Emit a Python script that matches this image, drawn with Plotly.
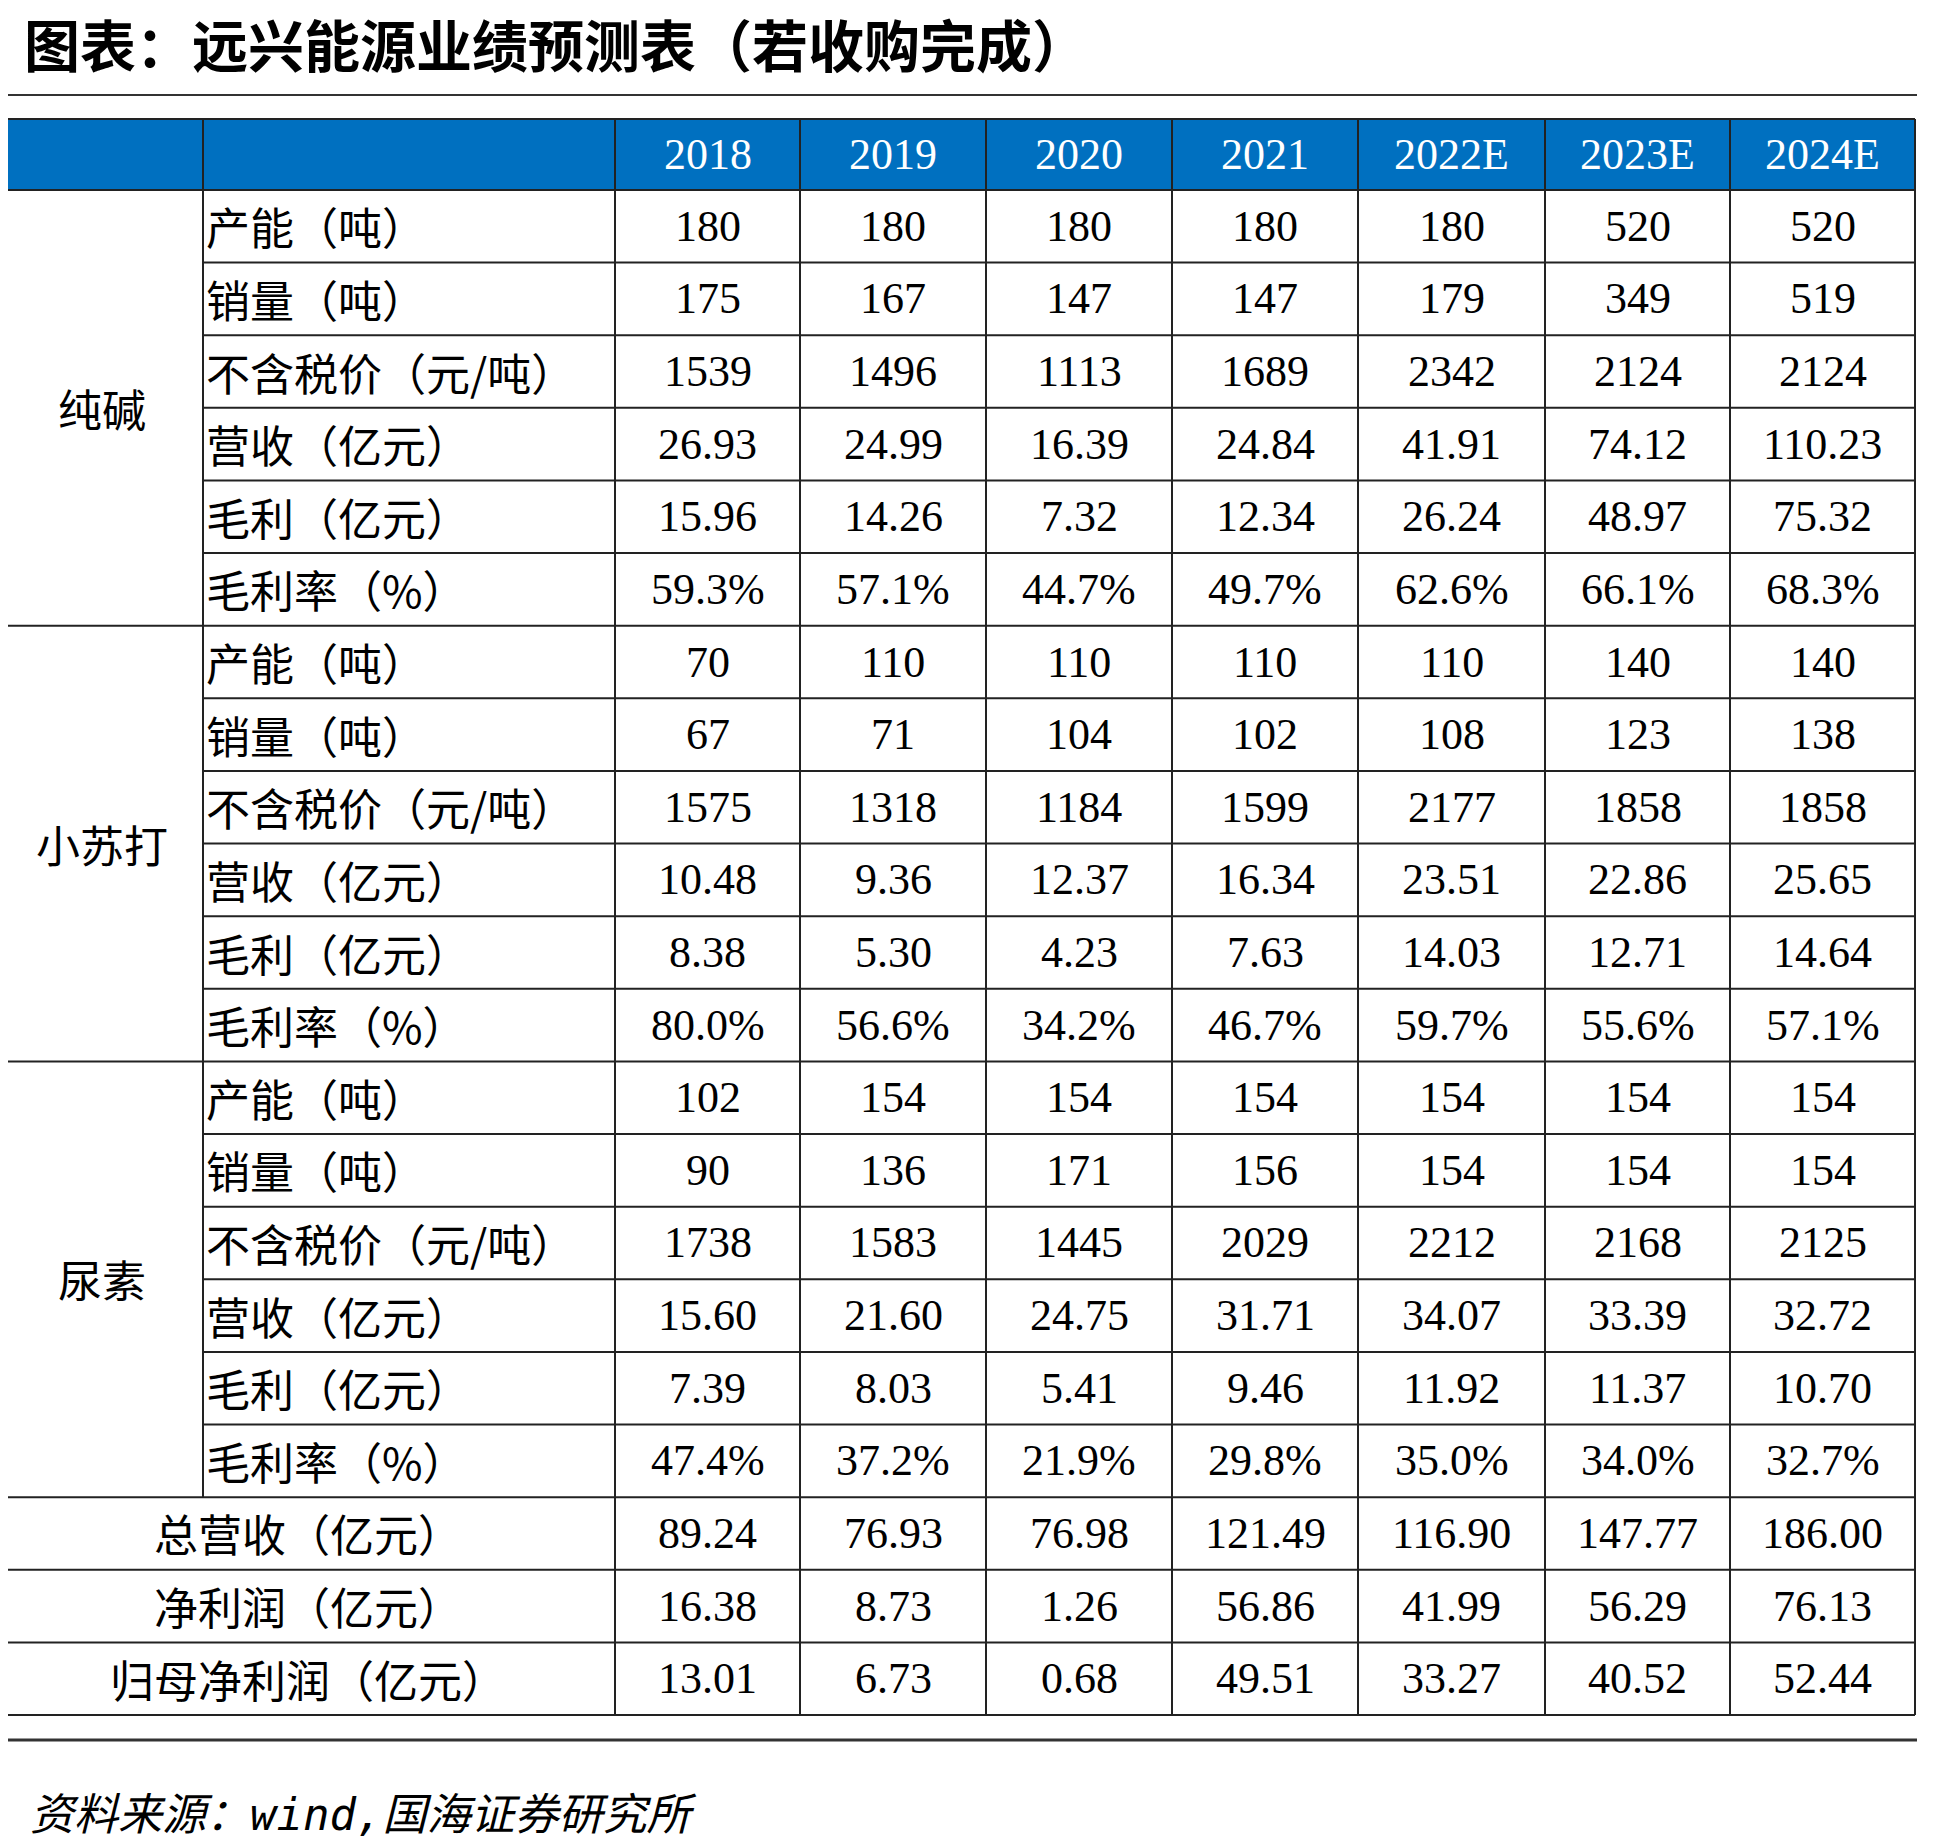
import plotly.graph_objects as go

years = ["2018", "2019", "2020", "2021", "2022E", "2023E", "2024E"]
groups = ["纯碱", "小苏打", "尿素"]
items = ["产能（吨）", "销量（吨）", "不含税价（元/吨）", "营收（亿元）", "毛利（亿元）", "毛利率（%）"]

soda_ash = [
    ["180", "180", "180", "180", "180", "520", "520"],
    ["175", "167", "147", "147", "179", "349", "519"],
    ["1539", "1496", "1113", "1689", "2342", "2124", "2124"],
    ["26.93", "24.99", "16.39", "24.84", "41.91", "74.12", "110.23"],
    ["15.96", "14.26", "7.32", "12.34", "26.24", "48.97", "75.32"],
    ["59.3%", "57.1%", "44.7%", "49.7%", "62.6%", "66.1%", "68.3%"],
]
baking_soda = [
    ["70", "110", "110", "110", "110", "140", "140"],
    ["67", "71", "104", "102", "108", "123", "138"],
    ["1575", "1318", "1184", "1599", "2177", "1858", "1858"],
    ["10.48", "9.36", "12.37", "16.34", "23.51", "22.86", "25.65"],
    ["8.38", "5.30", "4.23", "7.63", "14.03", "12.71", "14.64"],
    ["80.0%", "56.6%", "34.2%", "46.7%", "59.7%", "55.6%", "57.1%"],
]
urea = [
    ["102", "154", "154", "154", "154", "154", "154"],
    ["90", "136", "171", "156", "154", "154", "154"],
    ["1738", "1583", "1445", "2029", "2212", "2168", "2125"],
    ["15.60", "21.60", "24.75", "31.71", "34.07", "33.39", "32.72"],
    ["7.39", "8.03", "5.41", "9.46", "11.92", "11.37", "10.70"],
    ["47.4%", "37.2%", "21.9%", "29.8%", "35.0%", "34.0%", "32.7%"],
]
total_labels = ["总营收（亿元）", "净利润（亿元）", "归母净利润（亿元）"]
totals = [
    ["89.24", "76.93", "76.98", "121.49", "116.90", "147.77", "186.00"],
    ["16.38", "8.73", "1.26", "56.86", "41.99", "56.29", "76.13"],
    ["13.01", "6.73", "0.68", "49.51", "33.27", "40.52", "52.44"],
]

W, H = 1942, 1842
OFF = 8  # page body margin in the browser
col_x = [0, 203, 615, 800, 986, 1172, 1358, 1545, 1730, 1915]
top, head_bot, bot = 119, 190, 1715
n_rows = 21
rh = (bot - head_bot) / n_rows
def ry(i):
    return head_bot + i * rh

serif = "Liberation Serif, Noto Sans CJK SC"
cjk = "Noto Sans CJK SC"
FS = 44
line = dict(color="#222", width=2)

shapes, ann = [], []
# header
shapes.append(dict(type="rect", x0=0, x1=col_x[-1], y0=top, y1=head_bot,
                   fillcolor="#0070C0", line=dict(width=0), layer="below"))
for j, y in enumerate(years):
    ann.append(dict(x=(col_x[j + 2] + col_x[j + 3]) / 2, y=(top + head_bot) / 2, text=y,
                    showarrow=False, font=dict(family=serif, size=FS, color="white")))

blocks = [soda_ash, baking_soda, urea]
for g, (name, block) in enumerate(zip(groups, blocks)):
    ann.append(dict(x=col_x[1] / 2, y=(ry(6 * g) + ry(6 * g + 6)) / 2, text=name,
                    showarrow=False, font=dict(family=cjk, size=FS, color="black")))
    for i, (lab, vals) in enumerate(zip(items, block)):
        r = 6 * g + i
        yc = (ry(r) + ry(r + 1)) / 2
        ann.append(dict(x=col_x[1] + 1, y=yc, text=lab, xanchor="left", showarrow=False,
                        font=dict(family=cjk, size=FS, color="black")))
        for j, v in enumerate(vals):
            ann.append(dict(x=(col_x[j + 2] + col_x[j + 3]) / 2, y=yc, text=v, showarrow=False,
                            font=dict(family=serif, size=FS, color="black")))
        if i < 5:
            shapes.append(dict(type="line", x0=col_x[1], x1=col_x[-1], y0=ry(r + 1), y1=ry(r + 1), line=line))
    shapes.append(dict(type="line", x0=0, x1=col_x[-1], y0=ry(6 * g + 6), y1=ry(6 * g + 6), line=line))

for i, (lab, vals) in enumerate(zip(total_labels, totals)):
    r = 18 + i
    yc = (ry(r) + ry(r + 1)) / 2
    ann.append(dict(x=col_x[2] / 2, y=yc, text=lab, showarrow=False,
                    font=dict(family=cjk, size=FS, color="black")))
    for j, v in enumerate(vals):
        ann.append(dict(x=(col_x[j + 2] + col_x[j + 3]) / 2, y=yc, text=v, showarrow=False,
                        font=dict(family=serif, size=FS, color="black")))
    shapes.append(dict(type="line", x0=0, x1=col_x[-1], y0=ry(r + 1), y1=ry(r + 1), line=line))

# outer / vertical lines
shapes.append(dict(type="line", x0=0, x1=col_x[-1], y0=top, y1=top, line=line))
shapes.append(dict(type="line", x0=0, x1=col_x[-1], y0=head_bot, y1=head_bot, line=line))
shapes.append(dict(type="line", x0=col_x[1], x1=col_x[1], y0=top, y1=ry(18), line=line))
for x in col_x[2:]:
    shapes.append(dict(type="line", x0=x, x1=x, y0=top, y1=bot, line=line))

# title rules
shapes.append(dict(type="line", x0=0, x1=col_x[-1] + 2, y0=95, y1=95, line=dict(color="#333", width=2)))
shapes.append(dict(type="line", x0=0, x1=col_x[-1] + 2, y0=1740, y1=1740, line=dict(color="#333", width=3)))

ann.append(dict(x=22, y=42, text="<b>图表：远兴能源业绩预测表（若收购完成）</b>", xanchor="left",
                showarrow=False, font=dict(family=cjk, size=56, color="black")))
ann.append(dict(x=28, y=1814, text="<i>资料来源：wind,国海证券研究所</i>", xanchor="left",
                showarrow=False, font=dict(family="DejaVu Sans Mono, Noto Sans CJK SC", size=44, color="black")))

fig = go.Figure()
fig.update_layout(
    width=W, height=H, margin=dict(l=0, r=0, t=0, b=0),
    paper_bgcolor="white", plot_bgcolor="white",
    xaxis=dict(range=[OFF, W + OFF], visible=False, fixedrange=True),
    yaxis=dict(range=[H + OFF, OFF], visible=False, fixedrange=True),
    shapes=shapes, annotations=ann, showlegend=False,
)
fig.write_html("out.html")
